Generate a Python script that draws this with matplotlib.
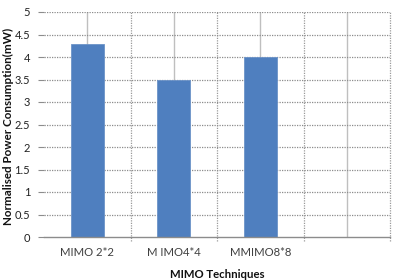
import matplotlib
matplotlib.use("Agg")
import matplotlib.pyplot as plt
import numpy as np

categories = ["MIMO 2*2", "M IMO4*4", "MMIMO8*8", ""]
values = [4.3, 3.5, 4.0, np.nan]
yticks = [0, 0.5, 1, 1.5, 2, 2.5, 3, 3.5, 4, 4.5, 5]
ytick_labels = ["0", "0.5", "1", "1.5", "2", "2.5", "3", "3.5", "4", "4.5", "5"]

plt.rcParams['font.family'] = ['Lato', 'DejaVu Sans']

fig = plt.figure(figsize=(3.95, 2.80), dpi=100)
ax = fig.add_axes([44/395, 43/280, 346/395, 225/280])

x = np.arange(len(categories))
ax.set_xlim(-0.5, len(categories) - 0.5)
ax.set_ylim(0, 5)

# vertical solid grid at category centers
for xi in x:
    ax.axvline(xi, color="#BFBFBF", lw=1.0, zorder=1)
# dotted at boundaries
for b in np.arange(0.5, len(categories), 1.0):
    ax.plot([b, b], [-0.08, 5], color="#9A9A9A", lw=0.9, ls=(0, (1, 1)),
            zorder=1, clip_on=False)
# horizontal dotted grid
for yv in yticks[1:]:
    ax.axhline(yv, color="#8C8C8C", lw=0.9, ls=(0, (1, 1)), zorder=1)

ax.bar(x, values, width=0.38, color="#4F7FBF", edgecolor="#6C93C8", lw=0.6, zorder=3)

for s in ["left", "right", "top"]:
    ax.spines[s].set_visible(False)
ax.spines["bottom"].set_color("#8C8C8C")
ax.spines["bottom"].set_linewidth(1.0)
ax.spines["bottom"].set_zorder(4)

ax.set_yticks(yticks)
ax.set_yticklabels(ytick_labels, fontsize=8, color="#222222")
ax.tick_params(axis="y", length=4, width=0.8, color="#8C8C8C", pad=6)
ax.set_xticks(x)
ax.set_xticklabels(categories, fontsize=8.2, color="#404040")
ax.tick_params(axis="x", length=0, pad=7)

fig.text(217/395, 1 - 275/280, "MIMO Techniques", fontsize=8.2, fontweight="bold",
         ha="center", va="center", color="#111111")
fig.text(8/395, 1 - 126/280, "Normalised Power Consumption(mW)", fontsize=8.4,
         fontweight="bold", rotation=90, ha="center", va="center", color="#111111")

fig.savefig("out.png", dpi=100)
